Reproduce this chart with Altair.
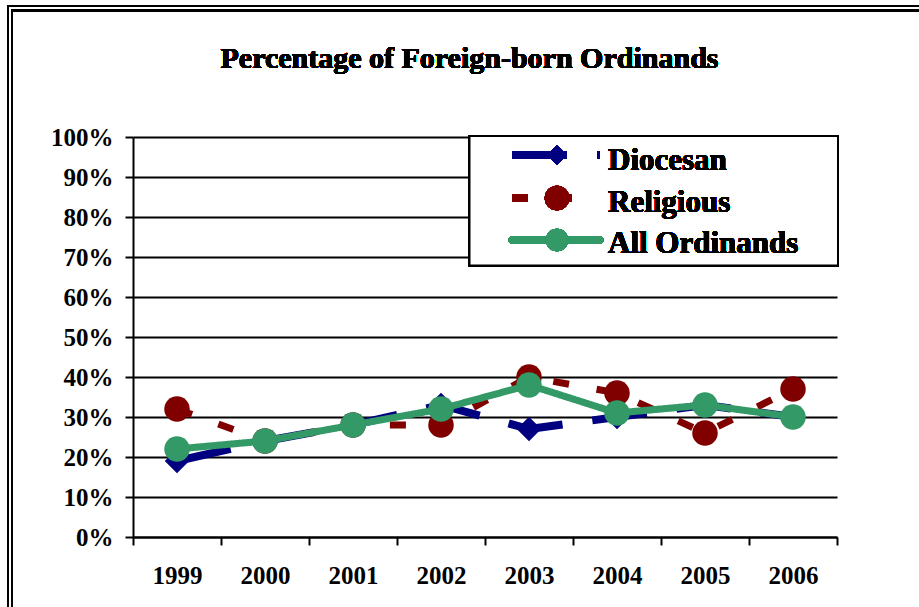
import altair as alt
import pandas as pd

years = ["1999", "2000", "2001", "2002", "2003", "2004", "2005", "2006"]
diocesan = [19, 24, 28, 33, 27, 30, 33, 30]
religious = [32, 24, 28, 28, 40, 36, 26, 37]
all_ordinands = [22, 24, 28, 32, 38, 31, 33, 30]
series_names = ["Diocesan", "Religious", "All Ordinands"]
y_ticks = [0, 10, 20, 30, 40, 50, 60, 70, 80, 90, 100]
title_text = "Percentage of Foreign-born Ordinands"

rows = []
for name, vals in zip(series_names, [diocesan, religious, all_ordinands]):
    for yr, v in zip(years, vals):
        rows.append({"year": yr, "series": name, "value": v})
df = pd.DataFrame(rows)

FONT = "Liberation Serif"
W, H = 704, 400

xenc = alt.X("year:N", sort=years,
             scale=alt.Scale(paddingInner=0, paddingOuter=0),
             axis=alt.Axis(title=None, labelAngle=0, tickBand="extent", grid=False,
                           labelFont=FONT, labelFontWeight="bold", labelFontSize=25,
                           labelColor="black", tickColor="black", tickWidth=2, tickSize=8,
                           domainColor="black", domainWidth=2, labelPadding=18))
yenc = alt.Y("value:Q", scale=alt.Scale(domain=[0, 100], nice=False),
             axis=alt.Axis(title=None, values=y_ticks, labelExpr="datum.value + '%'",
                           grid=True, gridColor="black", gridWidth=2,
                           labelFont=FONT, labelFontWeight="bold", labelFontSize=25,
                           labelColor="black", tickColor="black", tickWidth=2, tickSize=8,
                           domainColor="black", domainWidth=2, labelPadding=12))

base = alt.Chart(df)

styles = {
    "Diocesan": dict(color="#000080", width=8, dash=[55, 30], shape="diamond", size=600, cap="butt"),
    "Religious": dict(color="#800000", width=7, dash=[16, 28], shape="circle", size=650, cap="butt"),
    "All Ordinands": dict(color="#339966", width=7, dash=[1, 0], shape="circle", size=650, cap="round"),
}

layers = []
for name in series_names:
    s = styles[name]
    f = base.transform_filter(alt.datum.series == name)
    layers.append(f.mark_line(color=s["color"], strokeWidth=s["width"], strokeDash=s["dash"],
                              strokeCap=s["cap"], strokeJoin="round").encode(x=xenc, y=yenc))
    layers.append(f.mark_point(shape=s["shape"], filled=True, opacity=1, color=s["color"],
                               size=s["size"]).encode(x=xenc, y=yenc))

# frame (double border)
frame_outer = alt.Chart(df).mark_rect(fillOpacity=0, stroke="black", strokeWidth=2).encode(
    x=alt.value(-125), x2=alt.value(806), y=alt.value(-131), y2=alt.value(490))
frame_inner = alt.Chart(df).mark_rect(fillOpacity=0, stroke="black", strokeWidth=2).encode(
    x=alt.value(-121), x2=alt.value(806), y=alt.value(-126.5), y2=alt.value(490))

# title
title = alt.Chart(df).mark_text(text=title_text, font=FONT, fontWeight="bold", fontSize=30,
                                color="black", align="center", baseline="alphabetic").encode(
    x=alt.value(336.5), y=alt.value(-69.5))

# legend
legend_box = alt.Chart(df).mark_rect(fill="white", stroke="black", strokeWidth=2).encode(
    x=alt.value(336.5), x2=alt.value(705), y=alt.value(-1), y2=alt.value(128.5))
leg_layers = [legend_box]
leg_y = [18, 61, 103]
leg_text_y = [33, 75, 116]
leg_sizes = [400, 600, 500]
for name, ly, ty, ms in zip(series_names, leg_y, leg_text_y, leg_sizes):
    s = styles[name]
    leg_layers.append(alt.Chart(df).mark_rule(color=s["color"], strokeWidth=s["width"],
                                              strokeDash=s["dash"], strokeCap=s["cap"]).encode(
        x=alt.value(379), x2=alt.value(467), y=alt.value(ly)))
    leg_layers.append(alt.Chart(df).mark_point(shape=s["shape"], filled=True, opacity=1,
                                               color=s["color"], size=ms).encode(
        x=alt.value(424), y=alt.value(ly)))
    leg_layers.append(alt.Chart(df).mark_text(text=name, font=FONT, fontWeight="bold", fontSize=31,
                                              color="black", align="left", baseline="alphabetic").encode(
        x=alt.value(475), y=alt.value(ty)))

chart = alt.layer(frame_outer, frame_inner, title, *layers, *leg_layers).properties(
    width=W, height=H,
    padding={"left": 133, "top": 137, "right": 82, "bottom": 70},
    autosize=alt.AutoSizeParams(type="none"),
    background="white",
).configure_view(strokeWidth=0)

chart.save("out.html", embed_options={"renderer": "svg", "actions": False})
